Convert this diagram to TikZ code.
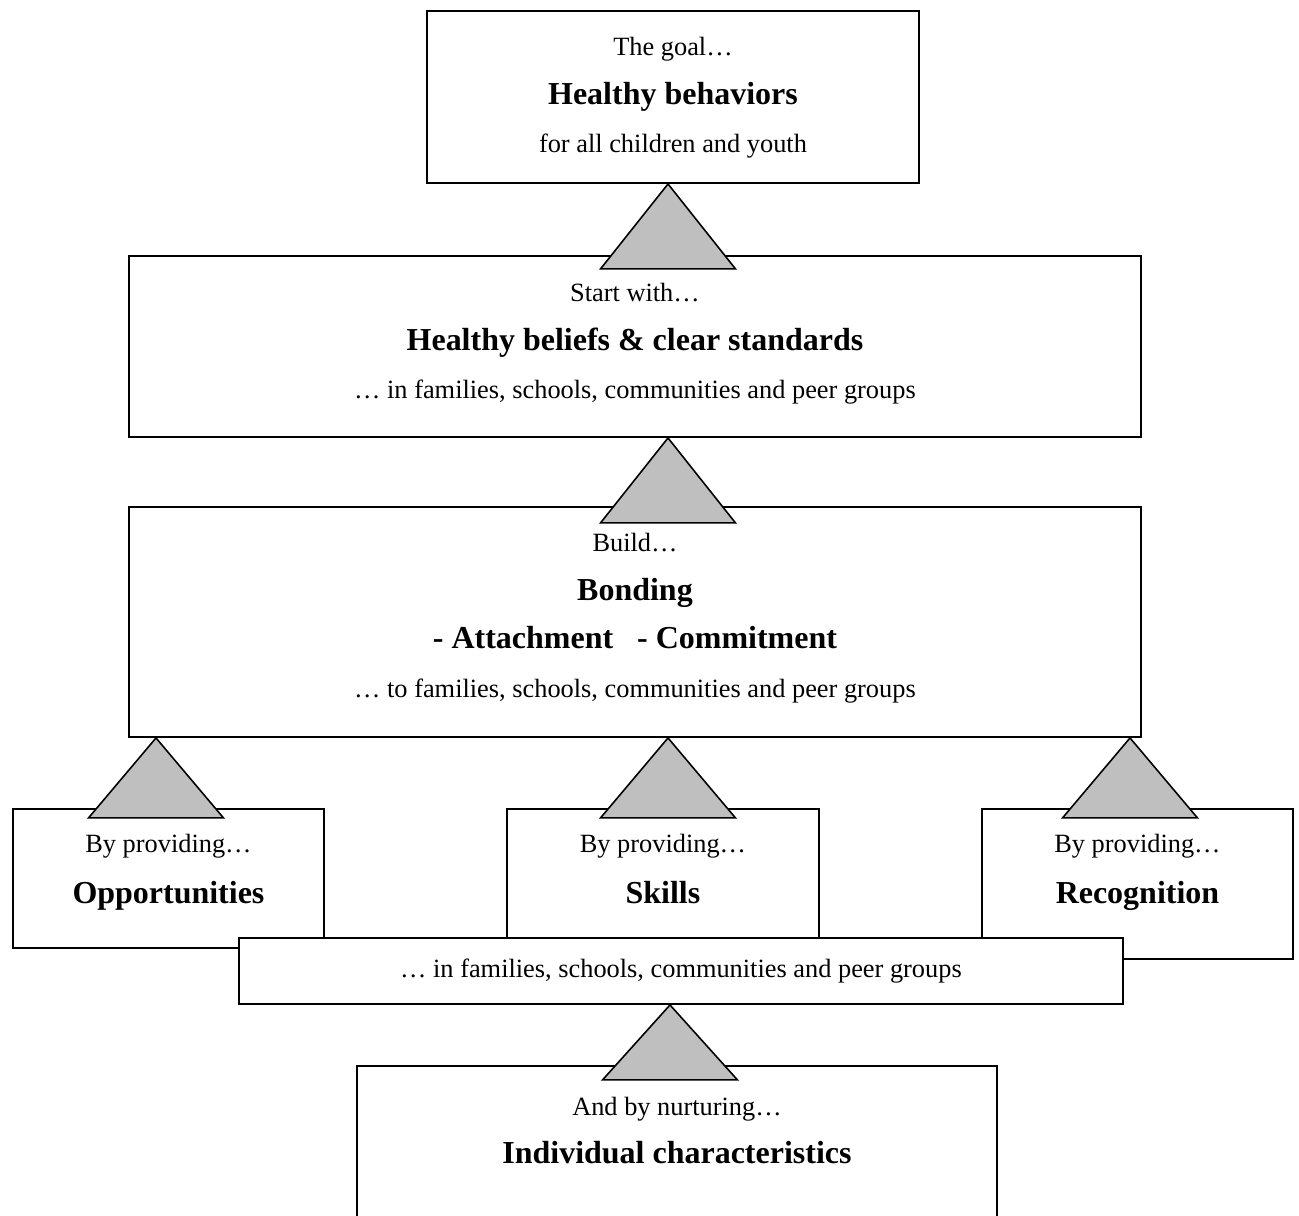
\documentclass[tikz,border=0pt]{standalone}
\usepackage{fontspec}
\setmainfont{Liberation Serif}
\usetikzlibrary{positioning}

\begin{document}
\begin{tikzpicture}[
			node distance=0.30cm,
			boxnode/.style={
				rectangle,
				draw=black,
				fill=white,
				line width=1.1pt,
				anchor=north west,
				inner sep=0pt
			},
			leadtext/.style={
				inner sep=0pt,
				text height=0.50cm,
				text depth=0.16cm,
				font=\fontsize{15}{17}\selectfont
			},
			headtext/.style={
				inner sep=0pt,
				text height=0.50cm,
				text depth=0.16cm,
				font=\fontsize{18.2}{21}\selectfont\bfseries
			},
			uptri/.style={
				draw=black,
				fill=black!25,
				line width=0.9pt,
				line join=miter
			}
			]
			\useasboundingbox (0,0) rectangle (25.98,-24.3);
			\clip (0,0) rectangle (25.98,-24.3);
			
			% the goal
			\node[boxnode, minimum width=9.84cm, minimum height=3.44cm] (goal) at (8.52,-0.2) {};
			\node[leadtext, below=0.40cm of goal.north] (goalA) {The goal…};
			\node[headtext, below=of goalA] (goalB) {Healthy behaviors};
			\node[leadtext, below=of goalB] (goalC) {for all children and youth};
			
			% beliefs and standards
			\node[boxnode, minimum width=20.24cm, minimum height=3.62cm] (start) at (2.56,-5.1) {};
			\node[leadtext, below=0.42cm of start.north] (startA) {Start with…};
			\node[headtext, below=of startA] (startB) {Healthy beliefs \& clear standards};
			\node[leadtext, below=of startB] (startC) {… in families, schools, communities and peer groups};
			
			% bonding
			\node[boxnode, minimum width=20.24cm, minimum height=4.6cm] (build) at (2.56,-10.12) {};
			\node[leadtext, below=0.40cm of build.north] (buildA) {Build…};
			\node[headtext, below=of buildA] (buildB) {Bonding};
			\node[headtext, below=of buildB] (buildC) {- Attachment \ \ - Commitment};
			\node[leadtext, below=of buildC] (buildD) {… to families, schools, communities and peer groups};
			
			% three ways of providing
			\node[boxnode, minimum width=6.22cm, minimum height=2.78cm] (opp) at (0.24,-16.16) {};
			\node[leadtext, below=0.38cm of opp.north] (oppA) {By providing…};
			\node[headtext, below=0.34cm of oppA] (oppB) {Opportunities};
			
			\node[boxnode, minimum width=6.24cm, minimum height=2.7cm] (skills) at (10.12,-16.16) {};
			\node[leadtext, below=0.38cm of skills.north] (skillsA) {By providing…};
			\node[headtext, below=0.34cm of skillsA] (skillsB) {Skills};
			
			\node[boxnode, minimum width=6.22cm, minimum height=3.0cm] (recog) at (19.62,-16.16) {};
			\node[leadtext, below=0.38cm of recog.north] (recogA) {By providing…};
			\node[headtext, below=0.34cm of recogA] (recogB) {Recognition};
			
			\node[boxnode, minimum width=17.68cm, minimum height=1.32cm, font=\fontsize{15}{17}\selectfont] (strip) at (4.76,-18.74) {… in families, schools, communities and peer groups};
			
			% individual
			\node[boxnode, minimum width=12.8cm, minimum height=3.6cm] (indiv) at (7.12,-21.3) {};
			\node[leadtext, below=0.50cm of indiv.north] (indivA) {And by nurturing…};
			\node[headtext, below=0.28cm of indivA] (indivB) {Individual characteristics};
			
			% upward triangles
			\foreach \up/\ax/\h in {goal/13.36/1.7, start/13.36/1.7, build/3.12/1.6,
				build/13.36/1.6, build/22.6/1.6, strip/13.4/1.5}
			\draw[uptri] (\ax,0 |- \up.south) -- ++(1.35,-\h) -- ++(-2.7,0) -- cycle;
		\end{tikzpicture}
\end{document}
